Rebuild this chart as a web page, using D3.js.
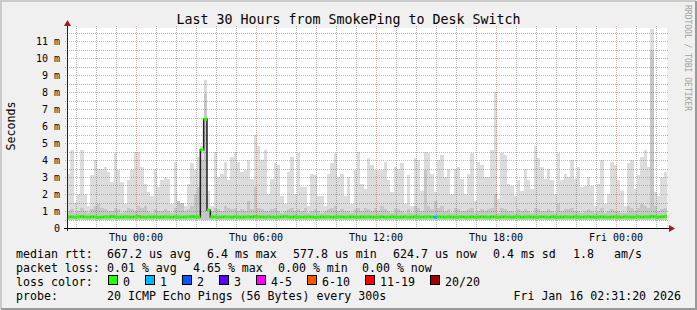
<!DOCTYPE html>
<meta charset="utf-8">
<style>
    body {
        margin: 0;
        background: #f0f0f0;
    }

    svg {
        display: block;
        font-family: "DejaVu Sans Mono", monospace;
    }

    .tick-label {
        font-size: 10px;
        fill: #000;
    }

    .legend {
        font-size: 11.6px;
        fill: #000;
        white-space: pre;
    }
</style>
<body>
<script src="https://d3js.org/d3.v7.min.js"></script>
<script>
    // one value per 10 minute step, 30 hours -> 180 steps (ms)
    const maxRtt = [
        3.2, 4.6, 1.5, 2.0, 4.6, 2.0, 1.3, 3.1, 4.0, 3.5, 3.5, 3.6, 3.3, 2.7, 4.4, 3.4, 2.7, 1.4, 2.8, 3.4,
        4.5, 4.5, 3.6, 2.6, 2.1, 1.9, 3.5, 2.4, 2.8, 3.0, 2.9, 1.4, 3.9, 1.5, 1.2, 1.3, 2.6, 3.8, 3.4, 4.2,
        4.8, 8.7, 2.2, 1.3, 4.5, 3.0, 3.2, 3.9, 2.8, 4.2, 4.5, 3.9, 3.3, 3.4, 4.0, 2.9, 5.5, 4.8, 4.0, 4.6,
        2.0, 2.9, 3.8, 3.7, 1.9, 1.4, 3.3, 4.2, 2.0, 4.4, 2.4, 2.4, 1.3, 3.2, 3.1, 1.9, 1.9, 1.3, 3.2, 3.8,
        4.4, 3.0, 3.2, 1.9, 3.0, 1.4, 3.4, 4.5, 2.6, 2.3, 4.1, 3.7, 3.4, 3.4, 3.4, 3.9, 2.8, 2.1, 3.6, 3.5,
        3.8, 1.4, 3.1, 1.3, 4.1, 4.0, 2.2, 4.5, 4.4, 3.2, 2.1, 4.0, 4.3, 3.0, 3.5, 2.0, 3.5, 3.6, 2.9, 2.0,
        3.2, 4.4, 1.6, 3.9, 3.7, 3.0, 3.0, 4.6, 8.0, 1.7, 4.4, 4.3, 2.6, 2.5, 1.9, 2.8, 2.2, 3.5, 2.8, 2.3,
        4.8, 4.1, 3.6, 2.9, 3.5, 2.8, 2.0, 4.4, 2.8, 3.2, 3.0, 4.0, 2.9, 3.6, 2.4, 2.5, 3.0, 2.5, 1.3, 2.6,
        4.0, 1.4, 2.0, 3.9, 3.7, 2.8, 2.2, 1.3, 3.8, 4.0, 2.3, 3.1, 4.2, 4.6, 3.6, 11.7, 2.1, 1.9, 3.0, 3.3
    ];

    const midRtt = [
        1.0, 1.1, 0.9, 1.0, 1.2, 1.0, 0.9, 1.1, 1.3, 1.4, 1.2, 1.1, 1.0, 1.0, 1.2, 1.1, 0.9, 1.0, 1.2, 1.1,
        1.0, 1.3, 1.2, 1.3, 1.0, 0.9, 1.1, 1.0, 1.0, 1.1, 1.0, 0.9, 1.2, 1.6, 1.5, 1.0, 1.1, 1.3, 2.0, 2.4,
        4.0, 7.9, 1.0, 1.0, 1.2, 1.1, 1.0, 1.3, 1.2, 1.1, 1.2, 1.0, 1.1, 1.0, 1.6, 1.1, 2.4, 1.2, 1.1, 1.0,
        1.0, 1.1, 1.2, 1.0, 0.9, 1.0, 1.1, 1.2, 1.0, 1.1, 1.0, 1.2, 0.9, 1.0, 1.1, 1.0, 0.9, 1.0, 1.1, 1.2,
        1.3, 1.0, 1.1, 1.0, 1.0, 0.9, 1.1, 1.2, 1.0, 1.2, 1.1, 1.0, 1.2, 1.0, 1.3, 1.1, 1.0, 0.9, 1.2, 1.1,
        1.0, 0.9, 1.1, 0.9, 1.3, 1.2, 1.0, 3.4, 1.3, 1.1, 1.6, 1.2, 1.3, 1.0, 1.1, 0.9, 1.2, 1.1, 1.0, 1.0,
        1.1, 1.2, 0.9, 1.0, 1.1, 1.0, 1.1, 1.2, 2.0, 0.9, 1.2, 1.1, 1.0, 1.0, 0.9, 1.1, 1.0, 1.1, 1.0, 0.9,
        1.2, 1.1, 1.0, 1.0, 1.1, 1.0, 0.9, 1.5, 1.0, 1.1, 1.1, 1.2, 1.0, 1.0, 0.9, 1.0, 1.1, 1.0, 0.9, 1.0,
        1.2, 0.9, 1.0, 1.1, 1.0, 1.0, 0.9, 0.9, 1.3, 1.2, 1.0, 1.2, 1.4, 1.3, 1.2, 10.5, 1.3, 1.0, 1.1, 1.2
    ];

    const medRtt = [
        0.66, 0.65, 0.64, 0.66, 0.67, 0.65, 0.64, 0.66, 0.65, 0.63, 0.64, 0.66, 0.65, 0.67, 0.66, 0.64, 0.65, 0.66, 0.65, 0.64,
        0.66, 0.67, 0.65, 0.64, 0.66, 0.65, 0.66, 0.64, 0.65, 0.66, 0.65, 0.64, 0.66, 0.65, 0.64, 0.65, 0.66, 0.67, 0.66, 0.65,
        4.6, 6.4, 1.05, 0.65, 0.66, 0.64, 0.65, 0.66, 0.65, 0.64, 0.66, 0.65, 0.64, 0.65, 0.66, 0.65, 0.67, 0.66, 0.65, 0.64,
        0.66, 0.65, 0.64, 0.65, 0.66, 0.67, 0.65, 0.64, 0.66, 0.65, 0.64, 0.65, 0.66, 0.65, 0.63, 0.64, 0.66, 0.65, 0.66, 0.64,
        0.65, 0.66, 0.65, 0.64, 0.65, 0.66, 0.65, 0.64, 0.66, 0.65, 0.66, 0.65, 0.64, 0.65, 0.66, 0.64, 0.65, 0.66, 0.65, 0.64,
        0.65, 0.66, 0.64, 0.65, 0.66, 0.65, 0.64, 0.65, 0.66, 0.65, 0.64, 0.66, 0.65, 0.64, 0.66, 0.65, 0.64, 0.65, 0.66, 0.64,
        0.65, 0.66, 0.64, 0.65, 0.66, 0.65, 0.64, 0.66, 0.65, 0.64, 0.65, 0.66, 0.65, 0.64, 0.65, 0.66, 0.64, 0.65, 0.66, 0.65,
        0.64, 0.65, 0.66, 0.65, 0.64, 0.66, 0.65, 0.64, 0.65, 0.66, 0.65, 0.64, 0.66, 0.65, 0.64, 0.65, 0.66, 0.65, 0.64, 0.65,
        0.66, 0.65, 0.64, 0.65, 0.66, 0.65, 0.64, 0.66, 0.65, 0.64, 0.65, 0.66, 0.65, 0.66, 0.65, 0.67, 0.66, 0.65, 0.66, 0.67
    ];

    const smokeFloor = 0.5;
    const lossSteps = [[110, 1]]; // [step, lost pings]

    const lossLabels = ['0', '1', '2', '3', '4-5', '6-10', '11-19', '20/20'];
    const lossColors = ['#26ff00', '#00b8ff', '#0059ff', '#5e00ff', '#ff00ff', '#ff5500', '#ff0000', '#a10000'];
    const lossUpper = [0, 1, 2, 3, 5, 10, 19, 20];

    const medianStats = ['667.2 us avg', '6.4 ms max', '577.8 us min', '624.7 us now', '0.4 ms sd', '1.8', 'am/s'];
    const lossStats = ['0.01 % avg', '4.65 % max', '0.00 % min', '0.00 % now'];
    const probeText = '20 ICMP Echo Pings (56 Bytes) every 300s';
    const stampText = 'Fri Jan 16 02:31:20 2026';
    const titleText = 'Last 30 Hours from SmokePing to Desk Switch';

    const W = 697, H = 310;
    const pL = 67, pR = 667, pT = 28, pB = 228;

    const tStart = new Date(2026, 0, 14, 20, 33);
    const tEnd = new Date(2026, 0, 16, 2, 33);

    const x = d3.scaleTime().domain([tStart, tEnd]).range([pL, pR]);
    const y = d3.scaleLinear().domain([0, 200 / 17]).range([pB, pT]);

    const stepTime = i => d3.timeMinute.offset(tStart, i * 10);
    const lossAt = {};
    lossSteps.forEach(d => { lossAt[d[0]] = d[1]; });
    const lossColor = n => lossColors[lossUpper.findIndex(u => n <= u)];

    const svg = d3.select('body').append('svg')
        .attr('width', W)
        .attr('height', H);

    // background + shaded frame
    svg.append('rect').attr('width', W).attr('height', H).attr('fill', '#f0f0f0');
    svg.append('path').attr('d', `M1,${H - 1}V1H${W - 1}`).attr('fill', 'none')
        .attr('stroke', '#cbcbcb').attr('stroke-width', 2);
    svg.append('path').attr('d', `M1,${H - 1}H${W - 1}V1`).attr('fill', 'none')
        .attr('stroke', '#999').attr('stroke-width', 2);

    svg.append('rect')
        .attr('x', pL).attr('y', pT)
        .attr('width', pR - pL).attr('height', pB - pT)
        .attr('fill', '#fff');

    // smoke
    const smoke = svg.append('g').attr('shape-rendering', 'crispEdges');
    [[maxRtt, '#dcdcdc'], [midRtt, '#c6c6c6']].forEach(([arr, col]) => {
        smoke.append('g').selectAll('rect')
            .data(arr)
            .join('rect')
            .attr('x', (d, i) => x(stepTime(i)))
            .attr('width', (d, i) => x(stepTime(i + 1)) - x(stepTime(i)))
            .attr('y', d => y(d))
            .attr('height', d => y(smokeFloor) - y(d))
            .attr('fill', col);
    });

    // grid (drawn over the smoke like rrdtool does)
    const grid = svg.append('g').attr('shape-rendering', 'crispEdges').attr('stroke-dasharray', '1,1');
    const yMinor = d3.range(0.5, 11.76, 1);
    const yMajor = d3.range(1, 12, 1);
    const hours = x.ticks(d3.timeHour.every(1));
    const majors = x.ticks(d3.timeHour.every(6));
    const isMajor = t => t.getHours() % 6 === 0;
    const minorCol = 'rgba(110,110,110,0.5)';
    const majorCol = 'rgba(210,50,50,0.42)';

    grid.selectAll('.hminor').data(yMinor).join('line')
        .attr('x1', pL - 2).attr('x2', pR + 2)
        .attr('y1', d => Math.round(y(d)) + 0.5).attr('y2', d => Math.round(y(d)) + 0.5)
        .attr('stroke', minorCol);
    grid.selectAll('.vminor').data(hours.filter(t => !isMajor(t))).join('line')
        .attr('y1', pT - 2).attr('y2', pB + 2)
        .attr('x1', d => Math.round(x(d)) + 0.5).attr('x2', d => Math.round(x(d)) + 0.5)
        .attr('stroke', minorCol);
    grid.selectAll('.hmajor').data(yMajor).join('line')
        .attr('x1', pL - 2).attr('x2', pR + 2)
        .attr('y1', d => Math.round(y(d)) + 0.5).attr('y2', d => Math.round(y(d)) + 0.5)
        .attr('stroke', majorCol);
    grid.selectAll('.vmajor').data(majors).join('line')
        .attr('y1', pT - 2).attr('y2', pB + 2)
        .attr('x1', d => Math.round(x(d)) + 0.5).attr('x2', d => Math.round(x(d)) + 0.5)
        .attr('stroke', majorCol);

    // median: dark step line, then coloured segments by loss
    const medPts = medRtt.map((d, i) => [stepTime(i), d]);
    medPts.push([stepTime(medRtt.length), medRtt[medRtt.length - 1]]);
    svg.append('path')
        .datum(medPts)
        .attr('fill', 'none')
        .attr('stroke', '#202020')
        .attr('stroke-width', 1.5)
        .attr('d', d3.line().x(d => x(d[0])).y(d => y(d[1])).curve(d3.curveStepAfter));

    svg.append('g').selectAll('line')
        .data(medRtt)
        .join('line')
        .attr('x1', (d, i) => x(stepTime(i)))
        .attr('x2', (d, i) => x(stepTime(i + 1)))
        .attr('y1', d => y(d)).attr('y2', d => y(d))
        .attr('stroke', (d, i) => lossColor(lossAt[i] || 0))
        .attr('stroke-width', 3);

    // axes
    svg.append('line')
        .attr('x1', pL - 3).attr('x2', pR + 3)
        .attr('y1', pB + 0.5).attr('y2', pB + 0.5)
        .attr('stroke', '#000');
    svg.append('path')
        .attr('d', `M${pR + 2},${pB - 3}L${pR + 8},${pB + 0.5}L${pR + 2},${pB + 4}Z`)
        .attr('fill', '#a01818');
    svg.append('line')
        .attr('x1', pL + 0.5).attr('x2', pL + 0.5)
        .attr('y1', pB + 3).attr('y2', pT - 3)
        .attr('stroke', '#222');
    svg.append('path')
        .attr('d', `M${pL - 3},${pT - 2}L${pL + 0.5},${pT - 8}L${pL + 4},${pT - 2}Z`)
        .attr('fill', '#a01818');

    svg.append('g').selectAll('text')
        .data(d3.range(0, 12))
        .join('text')
        .attr('class', 'tick-label')
        .attr('x', 60)
        .attr('y', d => y(d) + 3.6)
        .attr('text-anchor', 'end')
        .text(d => d === 0 ? '0' : d + ' m');

    svg.append('g').selectAll('text')
        .data(majors)
        .join('text')
        .attr('class', 'tick-label')
        .attr('x', d => x(d))
        .attr('y', 241)
        .attr('text-anchor', 'middle')
        .text(d3.timeFormat('%a %H:%M'));

    svg.append('text')
        .attr('transform', 'translate(15,126) rotate(-90)')
        .attr('text-anchor', 'middle')
        .style('font-size', '11.6px')
        .text('Seconds');

    svg.append('text')
        .attr('x', 348.5).attr('y', 24)
        .attr('text-anchor', 'middle')
        .style('font-size', '13.3px')
        .text(titleText);

    svg.append('text')
        .attr('transform', 'translate(685,5) rotate(90)')
        .style('font-size', '8px')
        .attr('fill', '#a0a0a0')
        .text('RRDTOOL / TOBI OETIKER');

    // legend
    const leg = svg.append('g').attr('class', 'legend');
    const medianX = [107, 207, 293, 393, 493, 573, 614];
    const lossX = [107, 193, 278, 362];

    leg.append('text').attr('x', 16).attr('y', 258).text('median rtt:');
    medianStats.forEach((s, i) => leg.append('text').attr('x', medianX[i]).attr('y', 258).text(s));
    leg.append('text').attr('x', 16).attr('y', 272).text('packet loss:');
    lossStats.forEach((s, i) => leg.append('text').attr('x', lossX[i]).attr('y', 272).text(s));
    leg.append('text').attr('x', 16).attr('y', 286).text('loss color:');

    let bx = 108;
    lossLabels.forEach((lab, i) => {
        leg.append('rect')
            .attr('x', bx + 0.5).attr('y', 275.5)
            .attr('width', 9).attr('height', 9)
            .attr('fill', lossColors[i])
            .attr('stroke', '#000');
        leg.append('text').attr('x', bx + 15).attr('y', 286).text(lab);
        bx += 30 + 7 * lab.length;
    });

    leg.append('text').attr('x', 16).attr('y', 300).text('probe:');
    leg.append('text').attr('x', 107).attr('y', 300).text(probeText);
    leg.append('text').attr('x', 681).attr('y', 300).attr('text-anchor', 'end').text(stampText);
</script>
</body>
